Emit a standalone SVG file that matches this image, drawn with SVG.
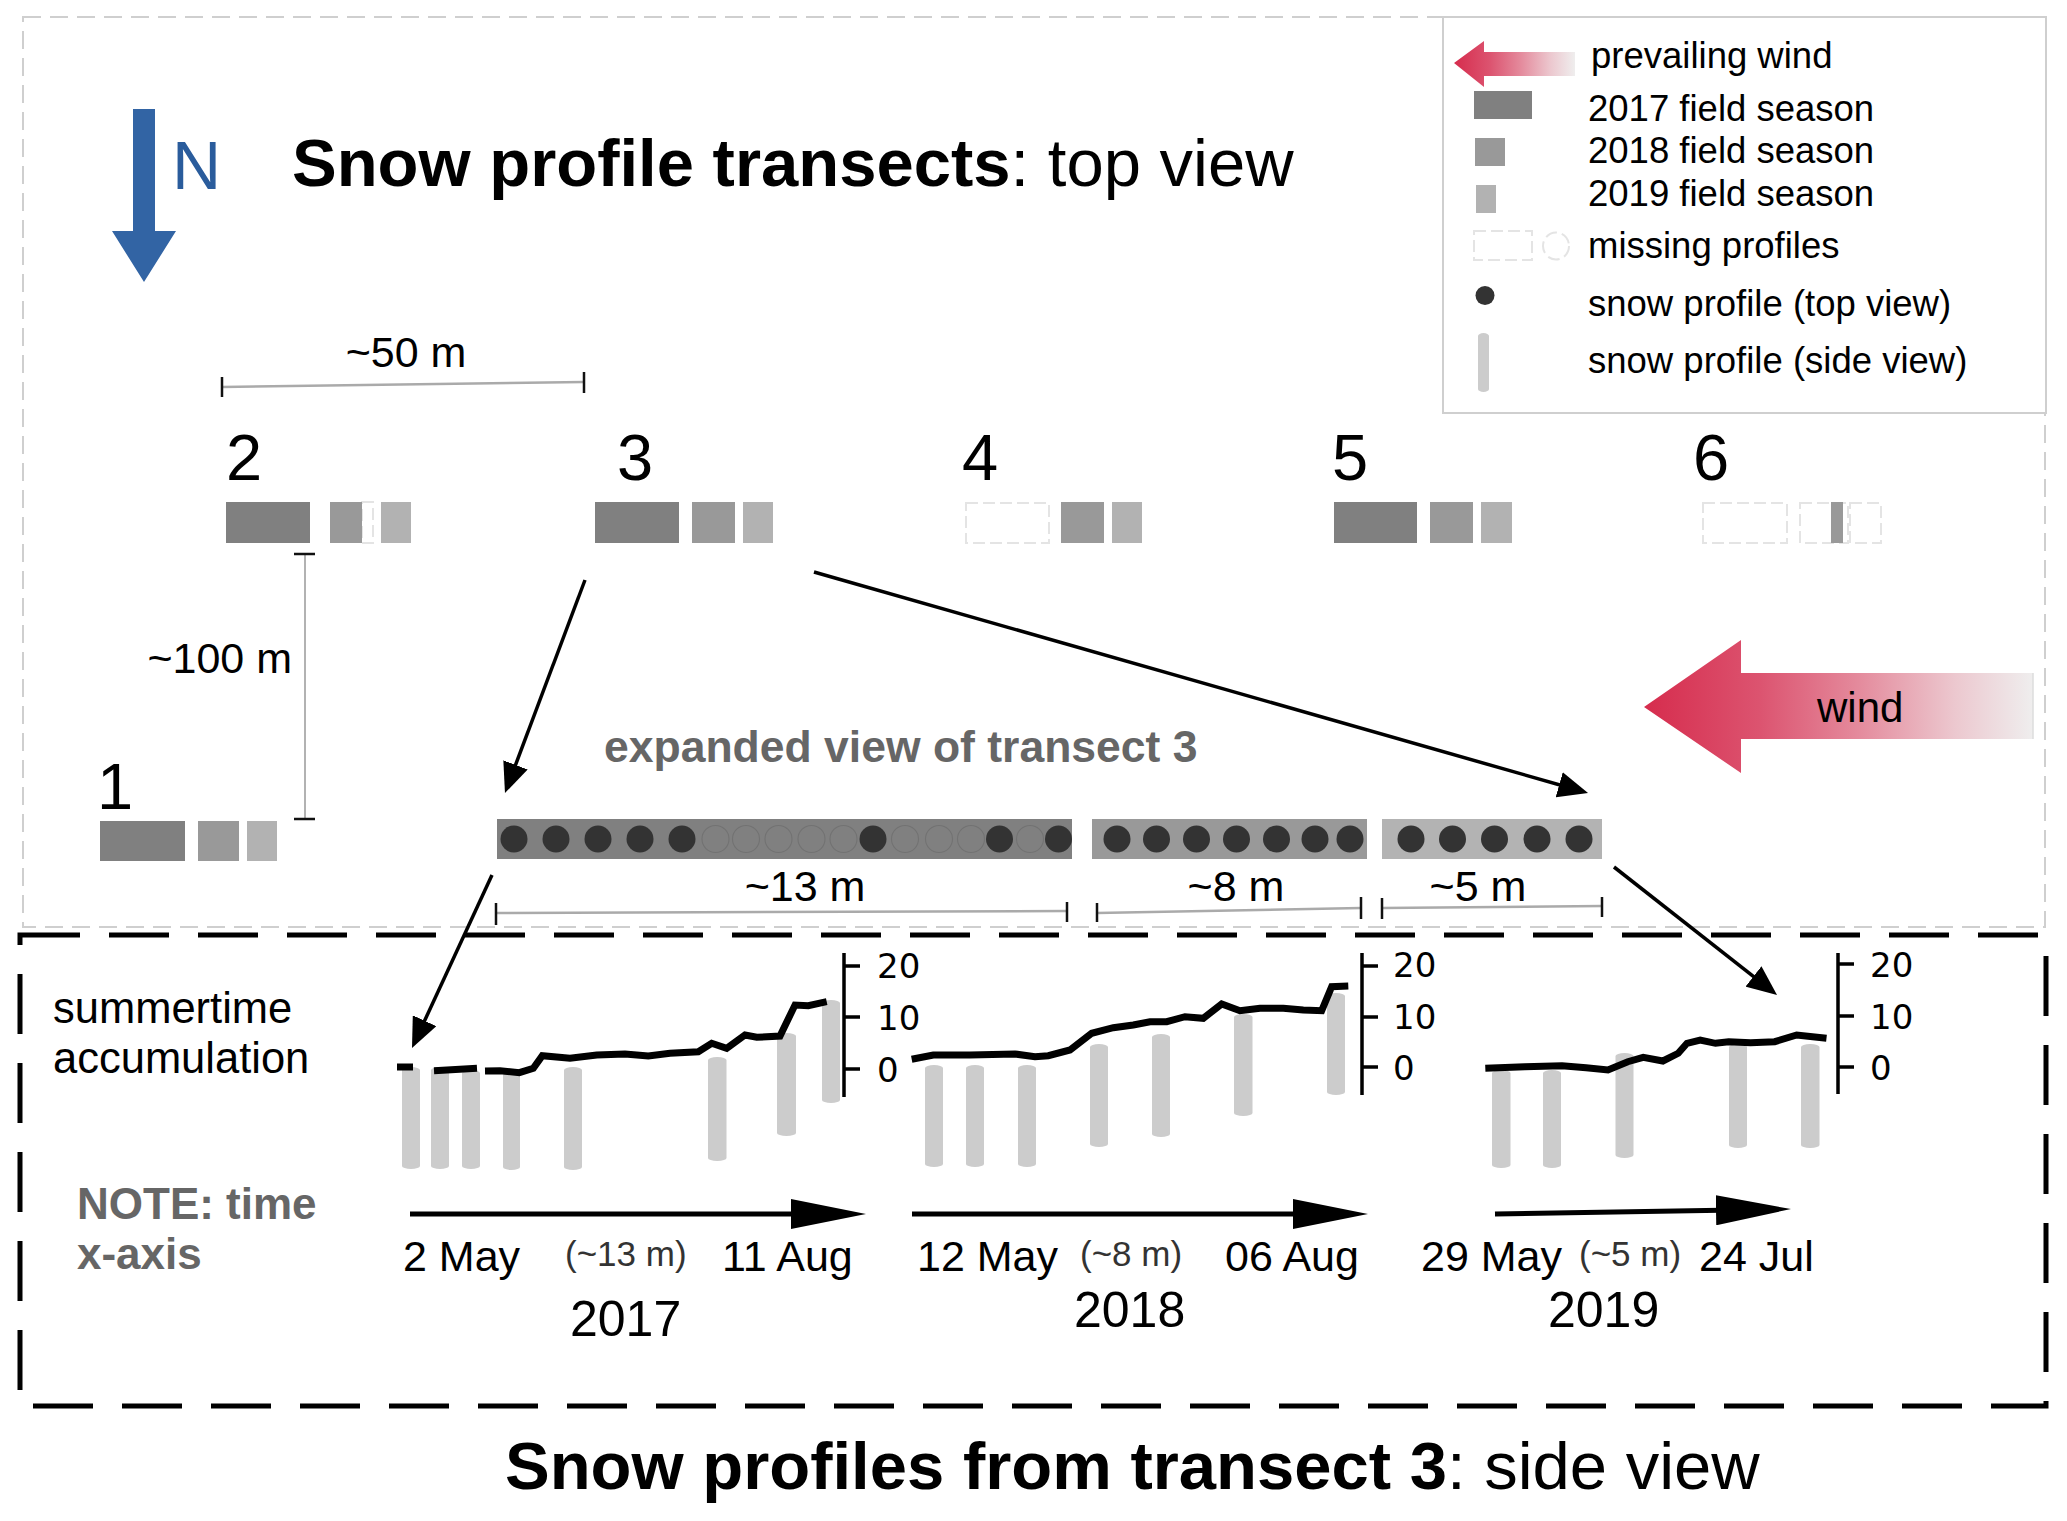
<svg xmlns="http://www.w3.org/2000/svg" width="2067" height="1521" viewBox="0 0 2067 1521">
<style>
text{font-family:"Liberation Sans",Arial,sans-serif;fill:#000}
.leg{font-size:36.5px}
.num{font-size:65px}
.dim{font-size:43px;text-anchor:middle}
.date{font-size:43px}
.par{font-size:35px;fill:#333}
.yr{font-size:50px}
.tick{font-family:"DejaVu Sans",sans-serif;font-size:34px}
.big{font-size:67px}
.gray{fill:#666;font-weight:bold}
.s17{fill:#808080}
.s18{fill:#999999}
.s19{fill:#b2b2b2}
.miss{fill:#fff;stroke:#e4e4e4;stroke-width:2;stroke-dasharray:12 5}
.dot{fill:#333}
.hol{fill:none;stroke:#727272;stroke-width:1.1}
.cyl{fill:#cccccc}
.acc{fill:none;stroke:#000;stroke-width:7}
.ax{stroke:#000;stroke-width:3.5;fill:none}
.bar{stroke:#aaa;stroke-width:2.5;fill:none}
.tk{stroke:#111;stroke-width:2.5}
.con{stroke:#000;stroke-width:3.5;fill:none;marker-end:url(#ah)}
.tl{stroke:#000;stroke-width:5;fill:none;marker-end:url(#tah)}
</style>
<defs>
<marker id="ah" viewBox="0 0 30 26" markerWidth="30" markerHeight="26" refX="10" refY="13" orient="auto" markerUnits="userSpaceOnUse"><path d="M0,0 L30,13 L0,26 Z" fill="#000"/></marker>
<marker id="tah" viewBox="0 0 75 30" markerWidth="75" markerHeight="30" refX="35" refY="15" orient="auto" markerUnits="userSpaceOnUse"><path d="M0,0 L75,15 L0,30 Z" fill="#000"/></marker>
<linearGradient id="wg" x1="0" y1="0" x2="1" y2="0">
<stop offset="0" stop-color="#d62c4d"/>
<stop offset="0.3" stop-color="#dc5470"/>
<stop offset="0.55" stop-color="#e48a9c"/>
<stop offset="0.8" stop-color="#ecc8cf"/>
<stop offset="1" stop-color="#efeeee"/>
</linearGradient>
</defs>
<rect width="2067" height="1521" fill="#fff"/>

<g id="top-frame">
<rect x="23" y="17" width="2022" height="910" fill="none" stroke="#cfcfcf" stroke-width="2" stroke-dasharray="18 9"/>
</g>

<g id="legend">
<rect x="1443" y="17" width="603" height="396" fill="#fff" stroke="#cfcfcf" stroke-width="2"/>
<path d="M1454,63 L1484,41 V52 H1575 V76 H1484 V87 Z" fill="url(#wg)"/>
<text class="leg" x="1591" y="68">prevailing wind</text>
<rect x="1474" y="91" width="58" height="28" class="s17"/>
<text class="leg" x="1588" y="121">2017 field season</text>
<rect x="1475" y="138" width="30" height="28" class="s18"/>
<text class="leg" x="1588" y="163">2018 field season</text>
<rect x="1476" y="185" width="20" height="28" class="s19"/>
<text class="leg" x="1588" y="206">2019 field season</text>
<rect x="1474" y="231" width="58" height="29" class="miss"/>
<ellipse cx="1556" cy="246" rx="13" ry="13.5" fill="none" stroke="#e4e4e4" stroke-width="2" stroke-dasharray="12 5"/>
<text class="leg" x="1588" y="258">missing profiles</text>
<ellipse cx="1485" cy="295.5" rx="9.5" ry="9.5" class="dot"/>
<text class="leg" x="1588" y="316">snow profile (top view)</text>
<rect x="1478" y="333" width="11" height="59" rx="5.5" ry="3" class="cyl"/>
<text class="leg" x="1588" y="373">snow profile (side view)</text>
</g>

<g id="title-top">
<text class="big" x="292" y="186"><tspan font-weight="bold">Snow profile transects</tspan>: top view</text>
</g>

<g id="north-arrow">
<path d="M133,109 H155 V231 H176 L144,282 L112,231 H133 Z" fill="#3264a4"/>
<text x="172" y="189" font-size="68" style="fill:#2a5c9c">N</text>
</g>

<g id="scale-50m">
<path class="bar" d="M222,387 L584,382"/>
<path class="tk" d="M222,377 V397 M584,372 V393"/>
<text class="dim" x="406" y="367">~50 m</text>
</g>

<g id="scale-100m">
<path d="M305,554 V819" stroke="#999" stroke-width="1.5"/>
<path class="tk" d="M294,554 H315 M294,819 H315"/>
<text class="dim" x="292" y="673" style="text-anchor:end">~100 m</text>
</g>

<g id="transect-1">
<text class="num" x="97" y="809">1</text>
<rect x="100" y="821" width="85" height="40" class="s17"/>
<rect x="198" y="821" width="41" height="40" class="s18"/>
<rect x="247" y="821" width="30" height="40" class="s19"/>
</g>
<g id="transect-2">
<text class="num" x="226" y="480">2</text>
<rect x="226" y="502" width="84" height="41" class="s17"/>
<rect x="362" y="502" width="11" height="41" class="miss"/>
<rect x="330" y="502" width="32" height="41" class="s18"/>
<rect x="381" y="502" width="30" height="41" class="s19"/>
</g>
<g id="transect-3">
<text class="num" x="617" y="480">3</text>
<rect x="595" y="502" width="84" height="41" class="s17"/>
<rect x="692" y="502" width="43" height="41" class="s18"/>
<rect x="743" y="502" width="30" height="41" class="s19"/>
</g>
<g id="transect-4">
<text class="num" x="962" y="480">4</text>
<rect x="966" y="503" width="83" height="40" class="miss"/>
<rect x="1061" y="502" width="43" height="41" class="s18"/>
<rect x="1112" y="502" width="30" height="41" class="s19"/>
</g>
<g id="transect-5">
<text class="num" x="1332" y="480">5</text>
<rect x="1334" y="502" width="83" height="41" class="s17"/>
<rect x="1430" y="502" width="43" height="41" class="s18"/>
<rect x="1481" y="502" width="31" height="41" class="s19"/>
</g>
<g id="transect-6">
<text class="num" x="1693" y="480">6</text>
<rect x="1703" y="503" width="84" height="40" class="miss"/>
<rect x="1800" y="503" width="48" height="40" class="miss"/>
<rect x="1850" y="503" width="31" height="40" class="miss"/>
<rect x="1831" y="502" width="12" height="41" class="s18"/>
</g>

<g id="wind-arrow">
<path d="M1644,707 L1741,640 V673 H2033 V739 H1741 V773 Z" fill="url(#wg)"/>
<path d="M2033,673 V739" stroke="#ddd" stroke-width="1.5"/>
<text x="1817" y="722" font-size="42">wind</text>
</g>

<g id="expanded-transect-3">
<text x="604" y="762" font-size="44.5" class="gray">expanded view of transect 3</text>
<rect x="497" y="819" width="575" height="40" class="s17"/>
<rect x="1092" y="819" width="275" height="40" class="s18"/>
<rect x="1382" y="819" width="220" height="40" fill="#b3b3b3"/>
<g class="hol">
<circle cx="715.5" cy="839" r="13.5"/><circle cx="746" cy="839" r="13.5"/><circle cx="778.5" cy="839" r="13.5"/><circle cx="811.5" cy="839" r="13.5"/><circle cx="843.5" cy="839" r="13.5"/>
<circle cx="905" cy="839" r="13.5"/><circle cx="939" cy="839" r="13.5"/><circle cx="971" cy="839" r="13.5"/>
<circle cx="1030" cy="839" r="13.5"/>
</g>
<g class="dot">
<circle cx="514" cy="839" r="13.5"/><circle cx="556" cy="839" r="13.5"/><circle cx="598" cy="839" r="13.5"/><circle cx="640" cy="839" r="13.5"/><circle cx="682" cy="839" r="13.5"/>
<circle cx="873" cy="839" r="13.5"/><circle cx="999.5" cy="839" r="13.5"/><circle cx="1058.5" cy="839" r="13.5"/>
<circle cx="1117" cy="839" r="13.5"/><circle cx="1156.5" cy="839" r="13.5"/><circle cx="1196.5" cy="839" r="13.5"/><circle cx="1236.5" cy="839" r="13.5"/><circle cx="1276.5" cy="839" r="13.5"/><circle cx="1315" cy="839" r="13.5"/><circle cx="1350" cy="839" r="13.5"/>
<circle cx="1411" cy="839" r="13.5"/><circle cx="1452.5" cy="839" r="13.5"/><circle cx="1494.5" cy="839" r="13.5"/><circle cx="1537" cy="839" r="13.5"/><circle cx="1579" cy="839" r="13.5"/>
</g>
<path class="bar" d="M496,913 L1067,911 M1097,913 L1361,908 M1382,908 L1602,906"/>
<path class="tk" d="M496,903 V925 M1067,902 V922 M1097,903 V922 M1361,897 V919 M1382,898 V919 M1602,897 V917"/>
<text class="dim" x="805" y="901">~13 m</text>
<text class="dim" x="1236" y="901">~8 m</text>
<text class="dim" x="1478" y="901">~5 m</text>
</g>

<g id="side-view-box">
<path d="M20,935 H2046 V1406 H20 Z" fill="none" stroke="#000" stroke-width="5" stroke-dasharray="60 29"/>
<text x="53" y="1023" font-size="43.5">summertime</text>
<text x="53" y="1073" font-size="43.5">accumulation</text>
<text x="77" y="1219" font-size="44" class="gray">NOTE: time</text>
<text x="77" y="1269" font-size="44" class="gray">x-axis</text>
</g>

<g id="chart-2017">
<g class="cyl">
<rect x="402" y="1067" width="18" height="102" rx="9" ry="3"/>
<rect x="431" y="1067" width="18" height="102" rx="9" ry="3"/>
<rect x="462" y="1070" width="18" height="99" rx="9" ry="3"/>
<rect x="503" y="1072" width="17" height="98" rx="8.5" ry="3"/>
<rect x="564" y="1067" width="18" height="103" rx="9" ry="3"/>
<rect x="708" y="1057" width="18.5" height="104" rx="9" ry="3"/>
<rect x="777" y="1033" width="19" height="103" rx="9.5" ry="3"/>
<rect x="822" y="1000" width="18" height="103" rx="9" ry="3"/>
</g>
<path class="acc" d="M397,1067 H413 M434,1070.7 L477,1068.3 M485,1071 L500,1070.7 L519.3,1072.7 L533.3,1068.3 L542.3,1055.7 L570,1058.3 L596.7,1055 L625,1054 L648.3,1056 L670,1053.3 L698.3,1051.7 L711.7,1043.3 L726.7,1048.3 L745,1035 L756.7,1037.3 L780,1036 L795,1005 L808.3,1005.7 L826.7,1001.7"/>
<path class="ax" d="M844,953 V1097 M844,966 H860 M844,1017 H860 M844,1069 H860"/>
<text class="tick" x="877" y="978">20</text>
<text class="tick" x="877" y="1030">10</text>
<text class="tick" x="877" y="1082">0</text>
</g>

<g id="chart-2018">
<g class="cyl">
<rect x="925" y="1065" width="18" height="102" rx="9" ry="3"/>
<rect x="966" y="1065" width="18" height="102" rx="9" ry="3"/>
<rect x="1018" y="1065" width="18" height="102" rx="9" ry="3"/>
<rect x="1090" y="1044" width="18" height="103" rx="9" ry="3"/>
<rect x="1152" y="1034" width="18" height="103" rx="9" ry="3"/>
<rect x="1234" y="1014" width="18.5" height="102" rx="9" ry="3"/>
<rect x="1327" y="993" width="18" height="102" rx="9" ry="3"/>
</g>
<path class="acc" d="M911.7,1059.3 L933.3,1055 L970,1055 L1015,1054 L1035,1056.7 L1048.3,1055.7 L1070,1050 L1091.7,1033.3 L1113.3,1027.7 L1133.3,1025 L1150,1021.7 L1166.7,1021.7 L1185,1016.7 L1203.3,1018.3 L1221.7,1004 L1240,1010.7 L1260,1008.3 L1283.3,1008.3 L1303.3,1010 L1321.7,1010.7 L1331.7,986.7 L1348.3,986"/>
<path class="ax" d="M1362,953 V1095 M1362,966 H1378 M1362,1017 H1378 M1362,1067 H1378"/>
<text class="tick" x="1393" y="977">20</text>
<text class="tick" x="1393" y="1029">10</text>
<text class="tick" x="1393" y="1080">0</text>
</g>

<g id="chart-2019">
<g class="cyl">
<rect x="1492" y="1070" width="18.5" height="98" rx="9" ry="3"/>
<rect x="1543" y="1070" width="18" height="98" rx="9" ry="3"/>
<rect x="1615.5" y="1053" width="18" height="105" rx="9" ry="3"/>
<rect x="1729" y="1044" width="18" height="104" rx="9" ry="3"/>
<rect x="1801" y="1044" width="18.5" height="104" rx="9" ry="3"/>
</g>
<path class="acc" d="M1485.3,1068.3 L1524.7,1066.7 L1562,1065.7 L1586.1,1067.7 L1608,1070 L1627.8,1061.7 L1643.2,1057.3 L1662.9,1061 L1678.2,1053.3 L1687,1043.3 L1700.2,1040 L1715.5,1043.3 L1728.7,1041.7 L1750.6,1042.7 L1774.7,1041.7 L1796.7,1035 L1826.5,1038.3"/>
<path class="ax" d="M1838,953 V1094 M1838,964 H1854 M1838,1016 H1854 M1838,1067 H1854"/>
<text class="tick" x="1870" y="977">20</text>
<text class="tick" x="1870" y="1029">10</text>
<text class="tick" x="1870" y="1080">0</text>
</g>

<g id="timeline">
<text class="date" x="403" y="1271">2 May</text>
<text class="par" x="565" y="1266">(~13 m)</text>
<text class="date" x="722" y="1271">11 Aug</text>
<text class="date" x="917" y="1271">12 May</text>
<text class="par" x="1080" y="1266">(~8 m)</text>
<text class="date" x="1225" y="1271">06 Aug</text>
<text class="date" x="1421" y="1271">29 May</text>
<text class="par" x="1579" y="1266">(~5 m)</text>
<text class="date" x="1699" y="1271">24 Jul</text>
<text class="yr" x="570" y="1336">2017</text>
<text class="yr" x="1074" y="1327">2018</text>
<text class="yr" x="1548" y="1327">2019</text>
</g>

<g id="title-bottom">
<text class="big" x="505" y="1489"><tspan font-weight="bold">Snow profiles from transect 3</tspan>: side view</text>
</g>

<g id="connectors">
<path class="con" d="M585,580 L512,774.3"/>
<path class="con" d="M814,572 L1568.8,787.5"/>
<path class="con" d="M492,875 L420.4,1029.8"/>
<path class="con" d="M1614,867 L1761.3,982.6"/>
<path class="tl" d="M410,1214 L826,1214"/>
<path class="tl" d="M912,1214 L1328,1214"/>
<path class="tl" d="M1495,1214 L1751,1209.7"/>
</g>
</svg>
